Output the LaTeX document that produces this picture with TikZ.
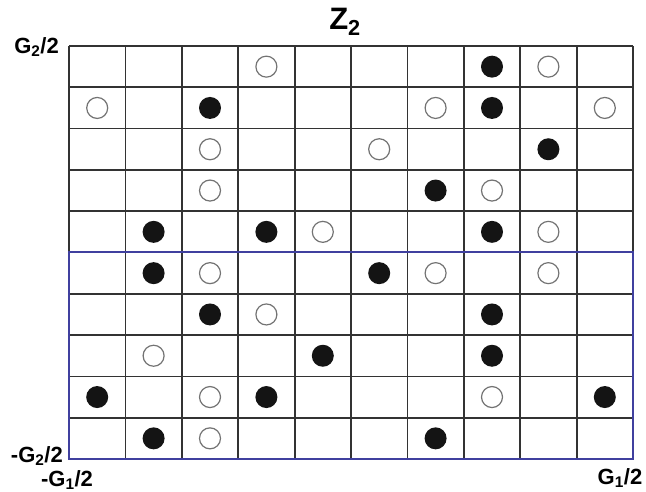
\documentclass[tikz,border=0pt]{standalone}
\usepackage{fontspec}
\setmainfont{Liberation Sans}
\begin{document}
\begin{tikzpicture}[x=1pt,y=-1pt,
  gridline/.style={draw=black!80,line width=1.8pt},
  bluebox/.style={draw=blue!50!black!75,line width=2pt},
  fdot/.style={circle,fill=black!92,inner sep=0pt,minimum size=22pt},
  odot/.style={circle,draw=black!55,line width=1.2pt,fill=white,inner sep=0pt,minimum size=21pt},
  lab/.style={font=\bfseries\fontsize{22}{24}\selectfont,inner sep=0pt},
  ttl/.style={font=\bfseries\fontsize{31}{33}\selectfont,inner sep=0pt}]
\useasboundingbox (0,0) rectangle (646,492);
\fill[white] (0,0) rectangle (646,492);
% grid
\foreach \i in {0,...,10} {
  \draw[gridline] ({69+56.4*\i},46) -- ({69+56.4*\i},459);
  \draw[gridline] (69,{46+41.3*\i}) -- (633,{46+41.3*\i});
}
\draw[bluebox] (69,252.5) rectangle (633,459);
% dots: row,col
\foreach \r/\c [count=\k] in {0/7,1/2,1/7,2/8,3/6,4/1,4/3,4/7,5/1,5/5,6/2,6/7,7/4,7/7,8/0,8/3,8/9,9/1,9/6}
  \node[fdot] (f\k) at ({69+56.4*(\c+0.5)},{46+41.3*(\r+0.5)}) {};
\foreach \r/\c [count=\k] in {0/3,0/8,1/0,1/6,1/9,2/2,2/5,3/2,3/7,4/4,4/8,5/2,5/6,5/8,6/3,7/1,8/2,8/7,9/2}
  \node[odot] (o\k) at ({69+56.4*(\c+0.5)},{46+41.3*(\r+0.5)}) {};
% labels
\node[ttl] (title) at (345,22) {Z\textsubscript{2}};
\node[lab,anchor=east] (g2p) at (59,47) {G\textsubscript{2}/2};
\node[lab,anchor=east] (g2m) at (63,456) {-G\textsubscript{2}/2};
\node[lab] (g1m) at (67,480) {-G\textsubscript{1}/2};
\node[lab] (g1p) at (620,478) {G\textsubscript{1}/2};
\end{tikzpicture}
\end{document}
